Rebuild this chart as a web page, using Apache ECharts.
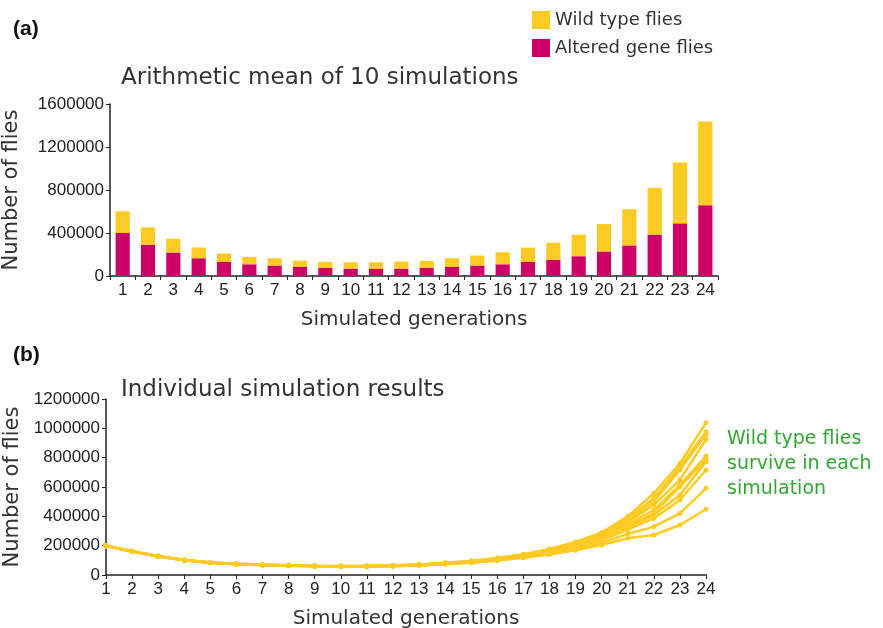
<!DOCTYPE html>
<html><head><meta charset="utf-8">
<script src="https://cdn.jsdelivr.net/npm/echarts@6/dist/echarts.min.js"></script>
<style>html,body{margin:0;padding:0;background:#fff}#c{width:883px;height:628px}</style>
</head><body><div id="c"></div>
<script>
const generations = ['1','2','3','4','5','6','7','8','9','10','11','12','13','14','15','16','17','18','19','20','21','22','23','24'];
const alteredMean = [400000,290000,218000,165000,131000,109000,97000,84000,75000,69000,69000,69000,75000,84000,97000,109000,131000,150000,184000,228000,284000,384000,490000,658000];
const wildMean = [202000,162000,128000,100000,78000,69000,68000,59000,56000,59000,59000,65000,65000,81000,93000,112000,134000,159000,200000,255000,337000,436000,567000,780000];
const topTicks = [0,400000,800000,1200000,1600000];
const bottomTicks = [0,200000,400000,600000,800000,1000000,1200000];
// individual simulations (wild type flies), values in thousands
const sim1 = [200,163,129,103,86,77,71,66,63,61,62,66,72,83,96,116,142,178,225,290,400,557,762,1038];
const sim2 = [200,162,129,103,86,77,70,66,63,61,62,65,71,82,95,114,139,174,220,282,385,523,739,977];
const sim3 = [200,162,128,102,85,76,70,65,62,60,61,65,70,80,93,112,136,170,215,275,370,500,716,959];
const sim4 = [200,162,128,102,85,76,70,65,62,60,61,64,69,79,91,110,133,165,208,268,360,477,648,925];
const sim5 = [200,161,128,102,85,76,69,65,62,60,60,63,68,78,90,108,131,162,202,258,345,443,614,811];
const sim6 = [200,161,127,101,84,75,69,64,61,59,60,63,68,77,89,107,129,158,198,252,335,420,602,789];
const sim7 = [200,161,127,101,84,75,69,64,61,59,59,62,67,77,88,105,127,156,195,245,325,409,545,773];
const sim8 = [200,160,127,101,84,75,68,64,61,59,59,62,66,76,87,103,124,150,188,238,310,386,511,716];
const sim9 = [200,160,126,100,83,74,68,63,60,58,58,61,65,75,85,101,120,145,178,220,280,330,420,591];
const sim10 = [200,160,126,100,83,74,68,63,60,58,57,60,64,73,83,98,117,140,168,205,250,273,341,448];
const sims = [sim1,sim2,sim3,sim4,sim5,sim6,sim7,sim8,sim9,sim10];

const YEL = '#FDCB24', MAG = '#CC0066', INK = '#222';
const tickFont = {fontFamily:'Liberation Sans', fontSize:17, color:INK};
const xNameFont = {fontFamily:'DejaVu Sans', fontSize:20, color:'#333'};
const yNameFont = {fontFamily:'DejaVu Sans', fontSize:21, color:'#333'};
const plain = v => String(v);

const chart = echarts.init(document.getElementById('c'), null, {renderer:'canvas'});
const lineSeries = sims.map((s,i)=>({
  name:'Simulation '+(i+1), type:'line', xAxisIndex:1, yAxisIndex:1,
  data:s.map(v=>v*1000), symbol:'circle', symbolSize:5, showSymbol:true,
  lineStyle:{color:YEL, width:2.5}, itemStyle:{color:YEL}, emphasis:{disabled:true}, z:3
}));
chart.setOption({
  animation:false,
  title:[
    {text:'(a)', left:8, top:14, textStyle:{fontFamily:'Liberation Sans', fontWeight:'bold', fontSize:21, color:'#111'}},
    {text:'Arithmetic mean of 10 simulations', left:116, top:62, textStyle:{fontFamily:'DejaVu Sans', fontWeight:'normal', fontSize:23, color:'#333'}},
    {text:'(b)', left:8, top:340, textStyle:{fontFamily:'Liberation Sans', fontWeight:'bold', fontSize:21, color:'#111'}},
    {text:'Individual simulation results', left:116, top:374, textStyle:{fontFamily:'DejaVu Sans', fontWeight:'normal', fontSize:23, color:'#333'}}
  ],
  legend:{data:['Wild type flies','Altered gene flies'], orient:'vertical', left:527, top:6, itemWidth:18, itemHeight:18, itemGap:10, icon:'rect',
    textStyle:{fontFamily:'DejaVu Sans', fontSize:18, fontWeight:500, color:'#333'}},
  grid:[
    {left:110, top:104, width:608, height:172, containLabel:false, outerBoundsMode:'none'},
    {left:106, top:399, width:600, height:176, containLabel:false, outerBoundsMode:'none'}
  ],
  xAxis:[
    {type:'category', gridIndex:0, data:generations, boundaryGap:true,
     axisLine:{lineStyle:{color:INK, width:1.5}}, axisTick:{show:true, length:4, lineStyle:{color:INK}},
     axisLabel:Object.assign({margin:6, interval:0}, tickFont),
     name:'Simulated generations', nameLocation:'middle', nameGap:34, nameTextStyle:xNameFont},
    {type:'category', gridIndex:1, data:generations, boundaryGap:false,
     axisLine:{lineStyle:{color:INK, width:1.5}}, axisTick:{show:true, length:4, interval:0, lineStyle:{color:INK}},
     axisLabel:Object.assign({margin:6, interval:0}, tickFont),
     name:'Simulated generations', nameLocation:'middle', nameGap:34, nameTextStyle:xNameFont}
  ],
  yAxis:[
    {type:'value', gridIndex:0, min:0, max:1600000, interval:400000,
     axisLine:{show:true, lineStyle:{color:INK, width:1.5}}, axisTick:{show:true, length:4, lineStyle:{color:INK}},
     splitLine:{show:false}, axisLabel:Object.assign({margin:6, formatter:plain}, tickFont),
     name:'Number of flies', nameLocation:'middle', nameGap:88, nameTextStyle:yNameFont},
    {type:'value', gridIndex:1, min:0, max:1200000, interval:200000,
     axisLine:{show:true, lineStyle:{color:INK, width:1.5}}, axisTick:{show:true, length:4, lineStyle:{color:INK}},
     splitLine:{show:false}, axisLabel:Object.assign({margin:6, formatter:plain}, tickFont),
     name:'Number of flies', nameLocation:'middle', nameGap:80, nameTextStyle:yNameFont}
  ],
  series:[
    {name:'Altered gene flies', type:'bar', stack:'a', xAxisIndex:0, yAxisIndex:0, data:alteredMean, barWidth:'56%', itemStyle:{color:MAG}},
    {name:'Wild type flies', type:'bar', stack:'a', xAxisIndex:0, yAxisIndex:0, data:wildMean, barWidth:'56%', itemStyle:{color:YEL}}
  ].concat(lineSeries),
  graphic:[
    {type:'text', left:727, top:427, style:{text:'Wild type flies\nsurvive in each\nsimulation', fontFamily:'DejaVu Sans', fontSize:19, lineHeight:25, fill:'#33A532'}}
  ]
});
</script></body></html>
